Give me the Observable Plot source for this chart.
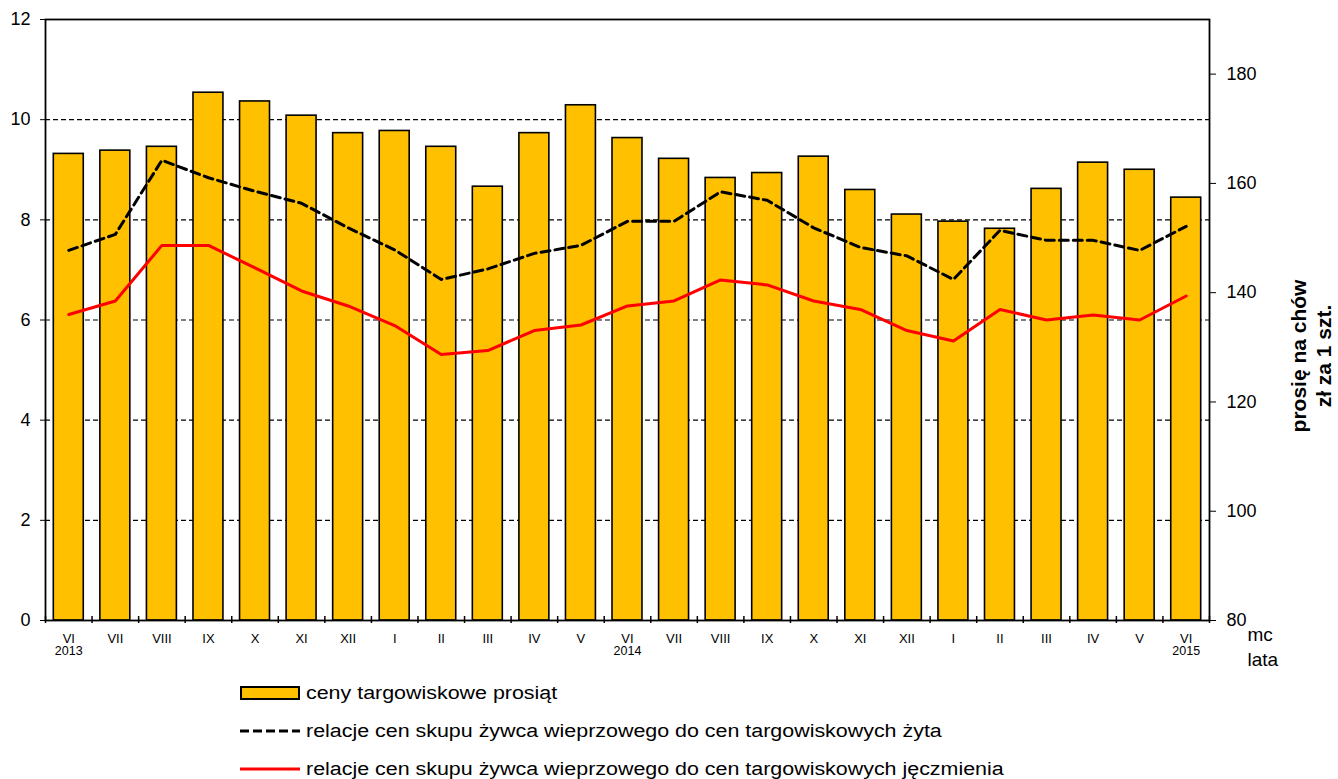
<!DOCTYPE html>
<html>
<head>
<meta charset="utf-8">
<script src="https://cdn.jsdelivr.net/npm/d3@7"></script>
<script src="https://cdn.jsdelivr.net/npm/@observablehq/plot@0.6"></script>
<style>
  html, body { margin: 0; padding: 0; background: #fff; }
  body { font-family: "Liberation Sans", Arial, sans-serif; color: #000; }
  #wrap { position: relative; width: 1338px; height: 779px; overflow: hidden; }
  #legend { position: absolute; left: 240px; top: 674px; }
  .row { display: flex; align-items: center; height: 38px; }
  .sw { width: 60px; height: 14px; margin-right: 6px; flex: none; position: relative; }
  .lbl { font-size: 18px; white-space: nowrap; transform: scaleX(1.19); transform-origin: left center; display: inline-block; }
</style>
</head>
<body>
<div id="wrap">
  <div id="chart"></div>
  <div id="legend"></div>
</div>
<script>
// ---- data ----
const months = ["VI","VII","VIII","IX","X","XI","XII","I","II","III","IV","V",
                "VI","VII","VIII","IX","X","XI","XII","I","II","III","IV","V","VI"];
const years = ["2013","","","","","","","","","","","",
               "2014","","","","","","","","","","","","2015"];
// ceny targowiskowe prosiąt (zł za 1 szt., right axis)
const pigletPrice = [165.4,166.0,166.7,176.6,175.0,172.4,169.2,169.6,166.7,159.4,169.2,174.3,
                     168.3,164.5,161.0,161.9,164.9,158.8,154.3,153.0,151.7,159.0,163.8,162.5,157.4];
// relacje cen skupu żywca wieprzowego do cen targowiskowych żyta (left axis)
const ryeRatio = [7.39,7.71,9.19,8.84,8.57,8.33,7.84,7.40,6.81,7.02,7.33,7.49,
                  7.97,7.97,8.56,8.39,7.84,7.45,7.28,6.81,7.79,7.59,7.59,7.39,7.87];
// relacje cen skupu żywca wieprzowego do cen targowiskowych jęczmienia (left axis)
const barleyRatio = [6.11,6.38,7.49,7.49,7.04,6.58,6.28,5.89,5.31,5.39,5.79,5.90,
                     6.28,6.38,6.80,6.70,6.38,6.21,5.79,5.58,6.21,6.00,6.10,6.00,6.48];
const leftTicks = [0,2,4,6,8,10,12];
const rightTicks = [80,100,120,140,160,180];
const leftDomain = [0,12];
const rightDomain = [80,190];
const legendLabels = [
  "ceny targowiskowe prosiąt",
  "relacje cen skupu żywca wieprzowego do cen targowiskowych żyta",
  "relacje cen skupu żywca wieprzowego do cen targowiskowych jęczmienia"
];
const axisTitle = "prosię na chów\nzł za 1 szt.";

// ---- build ----
const toLeft = r => (r - rightDomain[0]) / (rightDomain[1] - rightDomain[0]) * (leftDomain[1] - leftDomain[0]) + leftDomain[0];
const fromLeft = v => (v - leftDomain[0]) / (leftDomain[1] - leftDomain[0]) * (rightDomain[1] - rightDomain[0]) + rightDomain[0];
const data = months.map((m, i) => ({i, month: m, year: years[i], price: pigletPrice[i], rye: ryeRatio[i], barley: barleyRatio[i]}));
const boundaries = d3.range(months.length + 1);

const chart = Plot.plot({
  width: 1338,
  height: 672,
  marginLeft: 45,
  marginRight: 129,
  marginTop: 19,
  marginBottom: 52,
  style: {fontFamily: "'Liberation Sans', Arial, sans-serif", color: "#000", background: "#fff", overflow: "visible"},
  x: {domain: [0, months.length], axis: null, label: null},
  y: {domain: leftDomain, axis: null, label: null},
  marks: [
    Plot.ruleY(leftTicks.filter(t => t > leftDomain[0]), {stroke: "#000", strokeWidth: 1.1, strokeDasharray: "5,3"}),
    Plot.rectY(data, {x1: "i", x2: d => d.i + 1, y1: leftDomain[0], y2: d => toLeft(d.price),
      insetLeft: 8.3, insetRight: 8.3, fill: "#FFC000", stroke: "#000", strokeWidth: 1.6}),
    Plot.line(data, {x: d => d.i + 0.5, y: "rye", stroke: "#000", strokeWidth: 3, strokeDasharray: "9,5"}),
    Plot.line(data, {x: d => d.i + 0.5, y: "barley", stroke: "#FF0000", strokeWidth: 3}),
    Plot.frame({stroke: "#000", strokeWidth: 1.8}),
    Plot.axisY({ticks: leftTicks, tickSize: 5, tickPadding: 10, fontSize: 18, label: null, tickFormat: d => String(d)}),
    Plot.axisY({anchor: "right", ticks: rightTicks.map(toLeft), tickSize: 6, tickPadding: 11, fontSize: 18, label: null,
      tickFormat: v => String(Math.round(fromLeft(v)))}),
    Plot.ruleX(boundaries, {x: d => d, y1: leftDomain[0], y2: leftDomain[0], insetTop: -4, insetBottom: -3, stroke: "#000", strokeWidth: 1.5}),
    Plot.axisX({ticks: data.map(d => d.i + 0.5), tickSize: 0, tickPadding: 13, fontSize: 13, label: null,
      tickFormat: v => months[Math.floor(v)]}),
    Plot.text(data.filter(d => d.year), {x: d => d.i + 0.5, text: "year", frameAnchor: "bottom", dy: 34, fontSize: 12.5}),
    Plot.text([axisTitle], {frameAnchor: "right", rotate: -90, dx: 101, dy: 36, fontSize: 21, fontWeight: "bold", lineHeight: 1.2, textAnchor: "middle"}),
    Plot.text(["mc"], {frameAnchor: "bottom-right", dx: 38, dy: 20, textAnchor: "start", fontSize: 19}),
    Plot.text(["lata"], {frameAnchor: "bottom-right", dx: 38, dy: 45, textAnchor: "start", fontSize: 19})
  ]
});
document.getElementById("chart").appendChild(chart);

// ---- legend ----
const legend = document.getElementById("legend");
const swatches = [
  '<svg width="60" height="14"><rect x="1" y="1" width="58" height="12" fill="#FFC000" stroke="#000" stroke-width="2"/></svg>',
  '<svg width="60" height="14"><line x1="0" x2="60" y1="7" y2="7" stroke="#000" stroke-width="3" stroke-dasharray="9,4"/></svg>',
  '<svg width="60" height="14"><line x1="0" x2="60" y1="7" y2="7" stroke="#FF0000" stroke-width="3"/></svg>'
];
legendLabels.forEach((lab, k) => {
  const row = document.createElement("div");
  row.className = "row";
  row.innerHTML = '<div class="sw">' + swatches[k] + '</div><span class="lbl"></span>';
  row.querySelector(".lbl").textContent = lab;
  legend.appendChild(row);
});
</script>
</body>
</html>
